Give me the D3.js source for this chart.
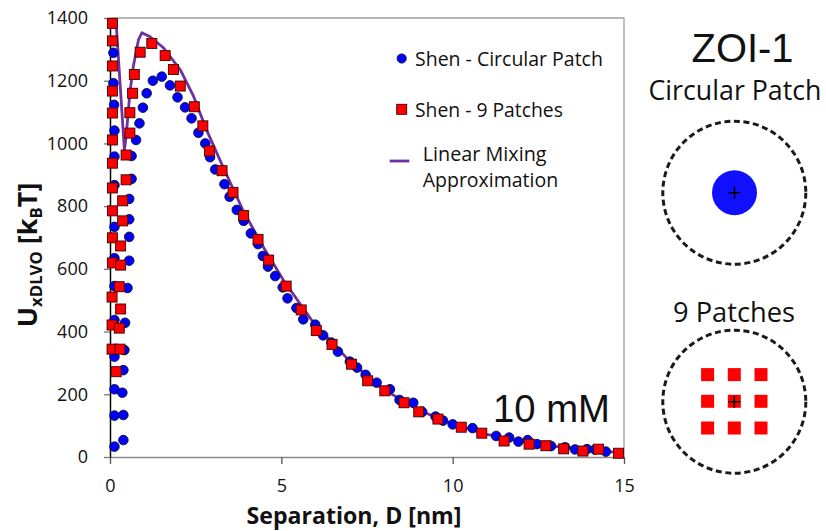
<!DOCTYPE html>
<html>
<head>
<meta charset="utf-8">
<script src="https://cdn.jsdelivr.net/npm/d3@7"></script>
<style>
  body { margin: 0; background: #fff; }
  svg { display: block; }
</style>
</head>
<body>
<svg id="chart" width="826" height="531"></svg>
<script>
// Shen – circular patch (separation in nm, energy in kT)
const circD = [
  0.10, 0.10, 0.12, 0.13, 0.13, 0.13, 0.13, 0.13, 0.13, 0.13, 0.13, 0.13, 0.13, 0.13,
  0.63, 0.63, 0.56, 0.56, 0.56, 0.56, 0.51, 0.44, 0.42, 0.39, 0.36, 0.39, 0.39,
  0.76, 0.86, 0.96, 1.07, 1.25, 1.51, 1.75, 1.97, 2.19, 2.38, 2.58, 2.78, 2.92, 3.07,
  3.34, 3.49, 3.70, 3.90, 4.11, 4.32, 4.46, 4.61, 4.82, 5.04, 5.18, 5.44, 5.64, 5.99,
  6.22, 6.46, 6.65, 7.00, 7.21, 7.46, 7.78, 8.17, 8.45, 8.85, 9.11, 9.50, 9.72, 10.00,
  10.58, 11.27, 11.65, 11.92, 12.19, 12.46, 12.87, 13.28, 13.57, 13.92, 14.15, 14.47
];
const circV = [
  1289, 1192, 1123, 1041, 958, 867, 734, 634, 545, 437, 320, 216, 132, 33,
  960, 887, 823, 758, 702, 626, 539, 428, 341, 277, 205, 134, 54,
  1011, 1064, 1114, 1160, 1200, 1213, 1185, 1147, 1115, 1080, 1034, 1000, 956, 917,
  870, 830, 788, 753, 713, 679, 641, 607, 577, 541, 506, 475, 439, 422,
  388, 365, 336, 304, 285, 262, 237, 216, 182, 173, 144, 129, 116, 104,
  92, 67, 62, 49, 54, 41, 35, 31, 24, 25, 24, 17
];

// Shen – 9 patches
const nineD = [
  0.07, 0.07, 0.07, 0.07, 0.07, 0.07, 0.07, 0.07, 0.07, 0.07, 0.07, 0.06, 0.06, 0.06,
  0.47, 0.47, 0.37, 0.37, 0.31, 0.31, 0.27, 0.31, 0.27, 0.29, 0.18,
  0.58, 0.58, 0.66, 0.71, 0.88, 1.22, 1.61, 1.85, 2.05, 2.46, 2.71, 2.90, 3.27, 3.59,
  3.90, 4.32, 4.63, 5.14, 5.58, 6.02, 6.48, 7.05, 7.52, 8.02, 8.58, 9.01, 9.57, 10.25,
  10.85, 11.50, 12.23, 12.72, 13.24, 13.80, 14.26, 14.84
];
const nineV = [
  1383, 1327, 1247, 1167, 1097, 1011, 937, 858, 785, 699, 619, 510, 421, 344,
  963, 884, 817, 753, 673, 612, 543, 472, 411, 344, 272,
  1033, 1098, 1160, 1220, 1291, 1319, 1280, 1236, 1183, 1117, 1056, 976, 913, 844,
  770, 694, 628, 545, 469, 403, 359, 296, 243, 211, 173, 144, 121, 95,
  76, 51, 41, 36, 26, 19, 25, 12
];

// Linear mixing approximation
const lineD = [0.17, 0.42, 0.47, 0.58, 0.68, 0.83, 0.93, 1.17, 1.56, 2.05, 2.44, 2.83, 3.3, 3.9,
  4.5, 5.07, 5.94, 7.0, 8.0, 9.0, 10.0, 11.0, 12.0, 13.0, 14.0, 14.8];
const lineV = [1400, 979, 1021, 1161, 1245, 1330, 1353, 1340, 1305, 1235, 1150, 1040, 925, 782,
  665, 562, 428, 305, 215, 150, 105, 72, 50, 34, 23, 15];

const xTicks = [0, 5, 10, 15];
const yTicks = [0, 200, 400, 600, 800, 1000, 1200, 1400];

const legendLabels = ["Shen - Circular Patch", "Shen - 9 Patches", "Linear Mixing", "Approximation"];

const BLUE = "#0000ff", RED = "#ff0000", PURPLE = "#7030a0";
const SANS = "'Open Sans', Lato, sans-serif";
const ARIAL = "'Liberation Sans', Arial, sans-serif";

const svg = d3.select("#chart");
const x = d3.scaleLinear().domain([0, 15]).range([110, 624]);
const y = d3.scaleLinear().domain([0, 1400]).range([457, 18]);

// scale a text element's font so it spans the given width
function fit(sel, w) {
  const len = sel.node().getComputedTextLength();
  const fs = parseFloat(sel.attr("font-size"));
  sel.attr("font-size", fs * w / len);
  return sel;
}

// frame (top and right)
svg.append("path")
  .attr("d", `M${x(0)},${y(1400)}H${x(15)}V${y(0)}`)
  .attr("fill", "none").attr("stroke", "#a0a0a0").attr("stroke-width", 1.3);

// axes
const gx = svg.append("g").attr("transform", `translate(0,${y(0)})`)
  .call(d3.axisBottom(x).tickValues(xTicks).tickFormat(d3.format("d"))
    .tickSize(7).tickSizeOuter(0).tickPadding(15));
gx.select(".domain").attr("stroke", "#8a8a8a").attr("stroke-width", 1.5);
gx.selectAll(".tick line").attr("stroke", "#555").attr("stroke-width", 1.3);
gx.selectAll("text").attr("font-family", SANS).attr("font-size", 18).attr("fill", "#111");

const gy = svg.append("g").attr("transform", `translate(${x(0)},0)`)
  .call(d3.axisLeft(y).tickValues(yTicks).tickFormat(d3.format("d"))
    .tickSize(6).tickSizeOuter(0).tickPadding(16));
gy.select(".domain").attr("stroke", "#000").attr("stroke-width", 1.5);
gy.selectAll(".tick line").attr("stroke", "#777").attr("stroke-width", 1.3);
gy.selectAll("text").attr("font-family", SANS).attr("font-size", 18).attr("fill", "#111");

// axis titles
const xt = svg.append("text").attr("x", 354).attr("y", 524).attr("text-anchor", "middle")
  .attr("font-family", SANS).attr("font-weight", "bold").attr("font-size", 25).attr("fill", "#111")
  .text("Separation, D [nm]");
fit(xt, 215);

const yt = svg.append("text").attr("transform", "translate(37,255) rotate(-90)")
  .attr("text-anchor", "middle").attr("font-family", SANS).attr("font-weight", "bold")
  .attr("font-size", 27).attr("fill", "#111");
yt.append("tspan").text("U");
yt.append("tspan").attr("font-size", "62%").attr("dy", 5).text("xDLVO");
yt.append("tspan").attr("dy", -5).text(" [k");
yt.append("tspan").attr("font-size", "62%").attr("dy", 5).text("B");
yt.append("tspan").attr("dy", -5).text("T]");

// linear mixing curve
const line = d3.line().x((d, i) => x(lineD[i])).y(d => y(d));
svg.append("path").datum(lineV).attr("d", line)
  .attr("fill", "none").attr("stroke", PURPLE).attr("stroke-width", 2.8)
  .attr("stroke-linejoin", "round");

// markers
svg.append("g").selectAll("circle").data(circV).join("circle")
  .attr("cx", (d, i) => x(circD[i])).attr("cy", d => y(d)).attr("r", 4.8)
  .attr("fill", BLUE).attr("stroke", "#101030").attr("stroke-width", 0.9);

svg.append("g").selectAll("rect").data(nineV).join("rect")
  .attr("x", (d, i) => x(nineD[i]) - 5).attr("y", d => y(d) - 5)
  .attr("width", 10).attr("height", 10)
  .attr("fill", RED).attr("stroke", "#3a0000").attr("stroke-width", 0.9);

// legend
const lg = svg.append("g");
lg.append("circle").attr("cx", 401.7).attr("cy", 58.5).attr("r", 4.6)
  .attr("fill", BLUE).attr("stroke", "#101030").attr("stroke-width", 0.9);
lg.append("rect").attr("x", 396.7).attr("y", 104.3).attr("width", 10).attr("height", 10)
  .attr("fill", RED).attr("stroke", "#3a0000").attr("stroke-width", 0.9);
lg.append("line").attr("x1", 389.7).attr("x2", 409.3).attr("y1", 161).attr("y2", 161)
  .attr("stroke", PURPLE).attr("stroke-width", 2.8);
const legPos = [[415, 65.7, 188], [415, 117.3, 148], [422.7, 161, 124], [422.7, 186.5, 135.6]];
legendLabels.forEach((t, i) => {
  const el = lg.append("text").attr("x", legPos[i][0]).attr("y", legPos[i][1])
    .attr("font-family", SANS).attr("font-size", 20).attr("fill", "#111").text(t);
  fit(el, legPos[i][2]);
});

// salt concentration
fit(svg.append("text").attr("x", 493).attr("y", 422).attr("font-family", ARIAL)
  .attr("font-size", 37).attr("fill", "#111").text("10 mM"), 117);

// zone-of-influence sketches
const side = svg.append("g");
fit(side.append("text").attr("x", 742.5).attr("y", 62).attr("text-anchor", "middle")
  .attr("font-family", ARIAL).attr("font-size", 38).attr("fill", "#111").text("ZOI-1"), 102);
fit(side.append("text").attr("x", 735).attr("y", 100).attr("text-anchor", "middle")
  .attr("font-family", SANS).attr("font-size", 26).attr("fill", "#111").text("Circular Patch"), 173);
fit(side.append("text").attr("x", 734).attr("y", 321.7).attr("text-anchor", "middle")
  .attr("font-family", SANS).attr("font-size", 26).attr("fill", "#111").text("9 Patches"), 122);

function zoi(cx, cy) {
  side.append("circle").attr("cx", cx).attr("cy", cy).attr("r", 71.5)
    .attr("fill", "none").attr("stroke", "#1a1a1a").attr("stroke-width", 3)
    .attr("stroke-dasharray", "6 3.6");
}
function cross(cx, cy) {
  side.append("path").attr("d", `M${cx - 6},${cy}H${cx + 6}M${cx},${cy - 6}V${cy + 6}`)
    .attr("stroke", "#000").attr("stroke-width", 1.6);
}
zoi(734.3, 192.7);
side.append("circle").attr("cx", 734.5).attr("cy", 192.7).attr("r", 22.5).attr("fill", "#1010ff");
cross(734.5, 192.7);

zoi(734.3, 401.7);
const offs = [-26.7, 0, 26.7];
offs.forEach(dy => offs.forEach(dx => {
  side.append("rect").attr("x", 734.3 + dx - 6.5).attr("y", 401.3 + dy - 6.5)
    .attr("width", 13).attr("height", 13).attr("fill", RED);
}));
cross(734.3, 401.7);
</script>
</body>
</html>
